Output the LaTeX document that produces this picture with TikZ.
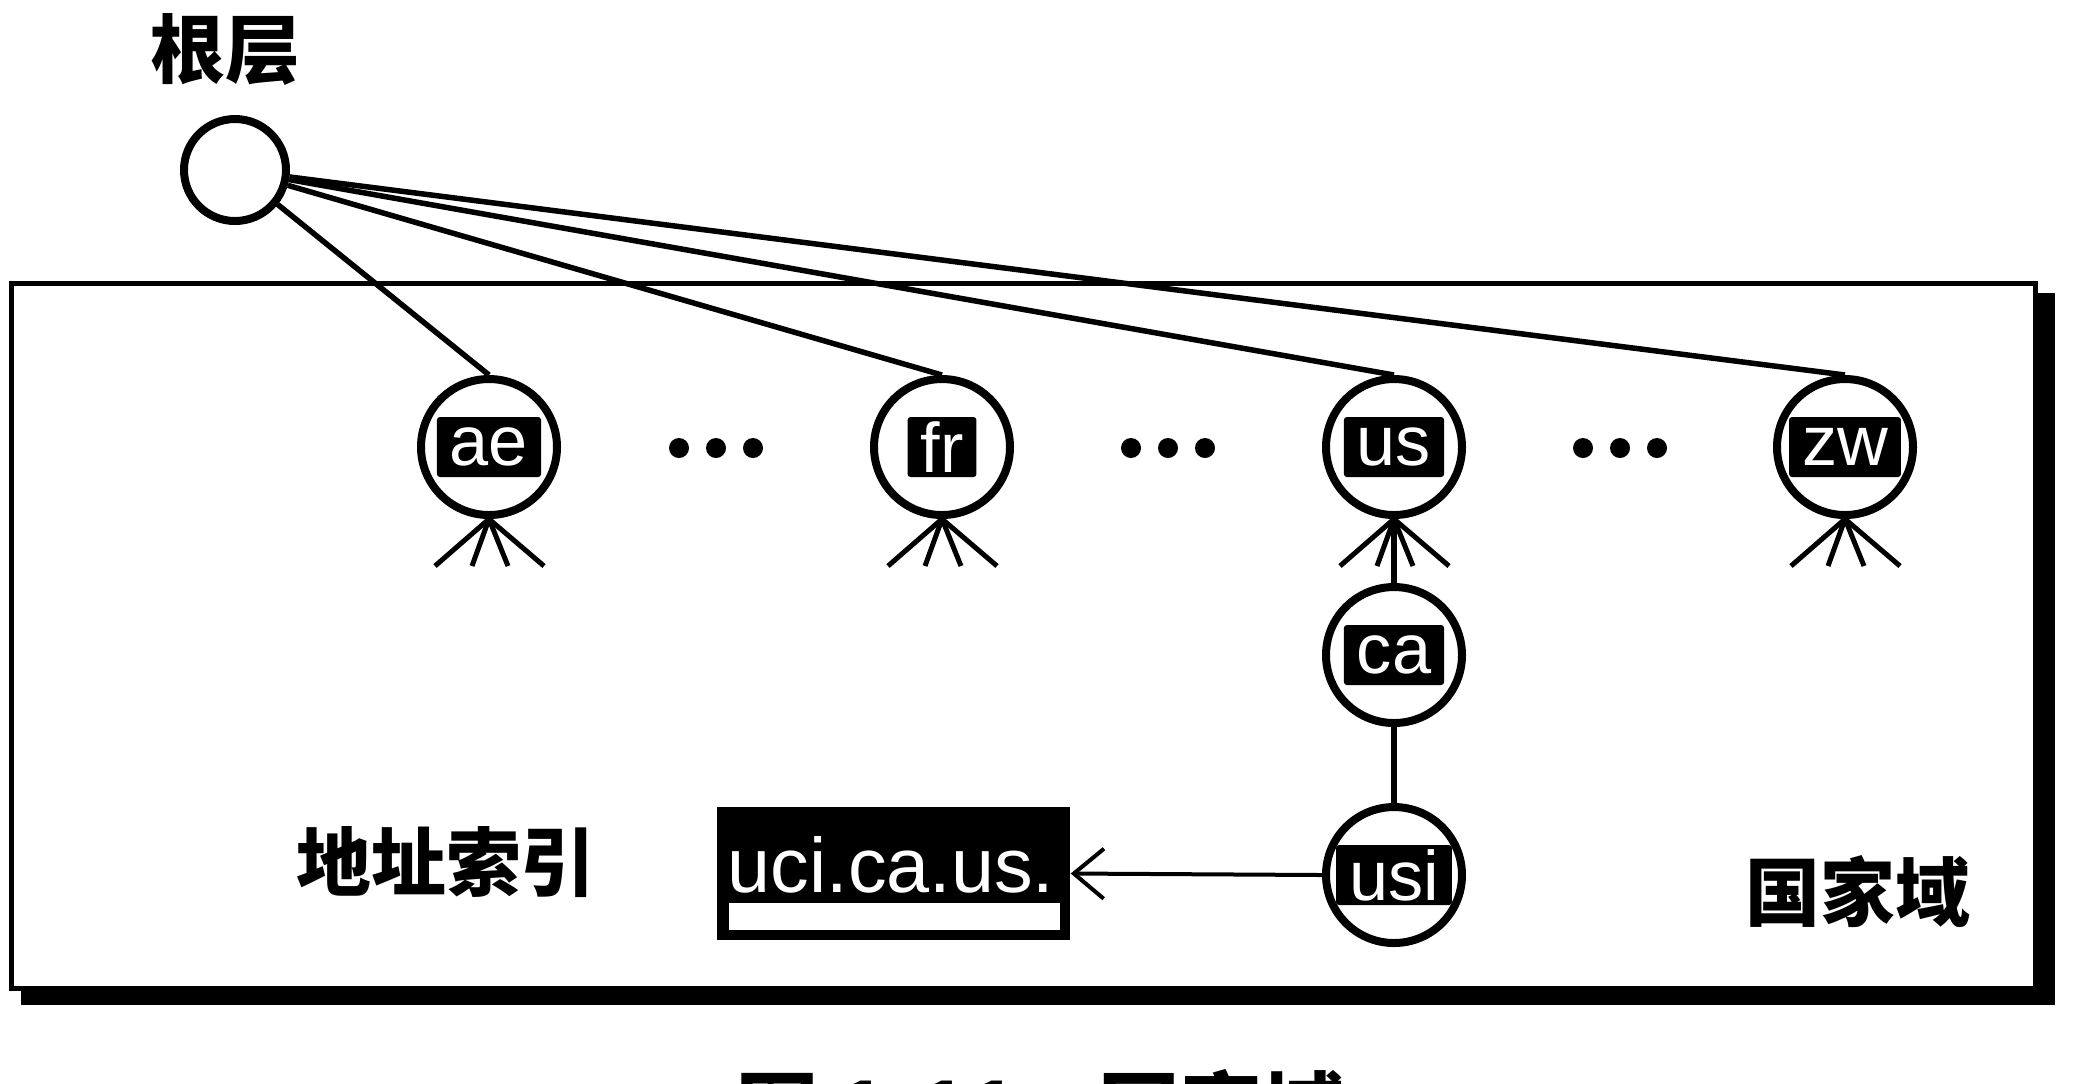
\documentclass[tikz,border=0pt]{standalone}
\usepackage{fontspec}
\setmainfont{Liberation Sans}
\newfontfamily\cjk{Noto Sans CJK SC}
\usetikzlibrary{arrows.meta,calc}
\begin{document}
\begin{tikzpicture}[x=0.1mm,y=-0.1mm,
  dnode/.style={circle,draw,line width=0.8mm,minimum size=13.6mm,inner sep=0pt,fill=white},
  rootc/.style={circle,draw,line width=0.8mm,minimum size=10.2mm,inner sep=0pt},
  tagbox/.style={fill=black,text=white,font=\fontsize{20}{22}\selectfont,inner xsep=1.3mm,inner ysep=0pt,minimum height=6mm,rounded corners=0.3mm},
  cjkt/.style={font=\fontsize{21.3}{24}\cjk\bfseries,inner sep=0pt},
  link/.style={line width=0.55mm},
  legline/.style={line width=0.5mm},
  dotmark/.style={circle,fill=black,minimum size=2mm,inner sep=0pt}]
\useasboundingbox (0,0) rectangle (2079,1083);
\fill[white] (0,0) rectangle (2079,1083);
% country-domain frame with shadow
\fill[black] (21,293) rectangle (2055,1005);
\draw[line width=0.5mm,fill=white] (11,283) rectangle (2035,988);
% root
\node[cjkt] (rootlbl) at (225,49) {根层};
\node[rootc] (root) at (235,170) {};
% top-level domains
\node[dnode] (ae) at (489,447) {};
\node[dnode] (fr) at (942,447) {};
\node[dnode] (us) at (1394,447) {};
\node[dnode] (zw) at (1845,447) {};
\node[dnode] (ca) at (1394,655) {};
\node[dnode] (usi) at (1394,875) {};
\foreach \n in {ae,fr,us,zw}{
  \draw[link] (root) -- (\n.north);
  \draw[legline] (\n.south) -- ++(-54,47);
  \draw[legline] (\n.south) -- ++(-17,47);
  \draw[legline] (\n.south) -- ++(19,47);
  \draw[legline] (\n.south) -- ++(55,47);
}
\draw[link] (us.south) -- (ca.north);
\draw[link] (ca.south) -- (usi.north);
% labels
\node[tagbox] (aet) at (ae) {ae};
\node[tagbox] (frt) at (fr) {fr};
\node[tagbox] (ust) at (us) {us};
\node[tagbox] (zwt) at (zw) {zw};
\node[tagbox] (cat) at (ca) {ca};
\node[tagbox] (usit) at (usi) {usi};
% ellipsis dots
\foreach \cx [count=\i] in {716,1168,1620}{
  \node[dotmark] (d\i a) at (\cx-37,448) {};
  \node[dotmark] (d\i b) at (\cx,448) {};
  \node[dotmark] (d\i c) at (\cx+37,448) {};
}
% address index box
\node[fill=black,minimum width=35.3mm,minimum height=13.3mm,inner sep=0pt] (uci) at (893.5,873.5) {};
\fill[white] (729,903) rectangle (1060,930);
\node[anchor=base,text=white,font=\fontsize{22}{24}\selectfont,inner sep=0pt] (ucit) at (891,892) {uci.ca.us.};
\draw[line width=0.4mm,-{Straight Barb[length=3mm,width=5mm,line width=0.4mm]}] (usi.west) -- (uci.east);
% texts
\node[cjkt] (addr) at (446,862) {地址索引};
\node[cjkt] (country) at (1858,892) {国家域};
\node[anchor=base west,font=\fontsize{23.3}{26}\cjk\bfseries,inner sep=0pt] (caption) at (736,1140) {图 1-11\hspace{8mm}国家域};
\end{tikzpicture}
\end{document}
